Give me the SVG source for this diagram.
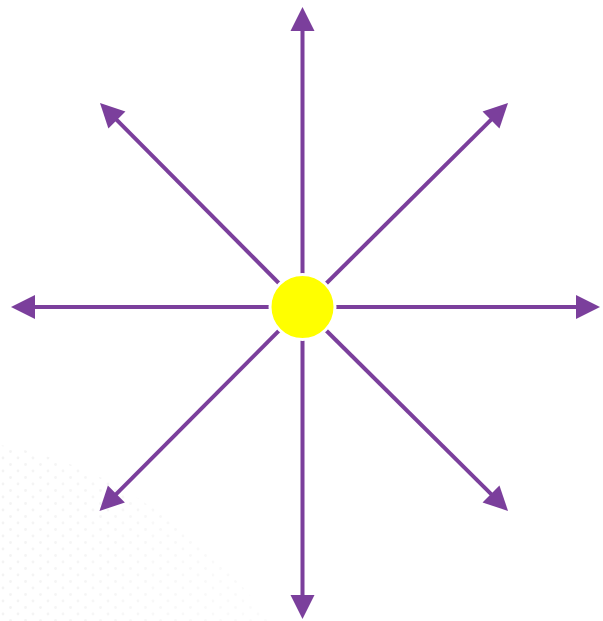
<svg xmlns="http://www.w3.org/2000/svg" width="603" height="621" viewBox="0 0 603 621">
  <style>
    .ray { stroke: #7B3F9C; stroke-width: 4; fill: none; marker-end: url(#arrow); }
  </style>
  <defs>
    <marker id="arrow" markerUnits="userSpaceOnUse" markerWidth="26" markerHeight="24" viewBox="0 0 26 24" refX="1" refY="12" orient="auto" overflow="visible">
      <path d="M0,0 L24,12 L0,24 Z" fill="#7B3F9C"/>
    </marker>
    <pattern id="dots" patternUnits="userSpaceOnUse" width="15" height="13">
      <circle cx="3" cy="3" r="1.4" fill="#eeeeee"/>
      <circle cx="10.5" cy="9.5" r="1.4" fill="#eeeeee"/>
    </pattern>
    <linearGradient id="fade" x1="0" y1="0" x2="1" y2="0">
      <stop offset="0" stop-color="#fff" stop-opacity="1"/>
      <stop offset="1" stop-color="#fff" stop-opacity="0.3"/>
    </linearGradient>
    <mask id="dotmask">
      <rect x="0" y="420" width="300" height="201" fill="url(#fade)"/>
    </mask>
  </defs>
  <rect width="603" height="621" fill="#ffffff"/>
  <path d="M0,445 Q150,470 272,621 L0,621 Z" fill="url(#dots)" mask="url(#dotmask)" opacity="0.7"/>
  <g id="connectors">
    <line class="ray" x1="302.5" y1="307" x2="302.5" y2="30"/>
    <line class="ray" x1="302.5" y1="307" x2="302.5" y2="596"/>
    <line class="ray" x1="302.5" y1="307" x2="34" y2="307"/>
    <line class="ray" x1="302.5" y1="307" x2="577" y2="307"/>
    <line class="ray" x1="302.5" y1="307" x2="116.2" y2="119.3"/>
    <line class="ray" x1="302.5" y1="307" x2="491.7" y2="119.2"/>
    <line class="ray" x1="302.5" y1="307" x2="115.7" y2="494.7"/>
    <line class="ray" x1="302.5" y1="307" x2="491.7" y2="494.7"/>
  </g>
  <g id="center">
    <circle cx="302.5" cy="307" r="32.5" fill="#FFFF00" stroke="#ffffff" stroke-width="3"/>
  </g>
</svg>
